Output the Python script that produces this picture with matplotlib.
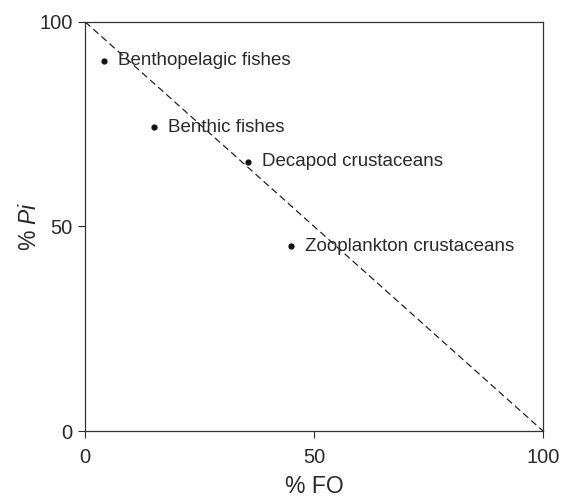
import matplotlib
matplotlib.use('Agg')
import matplotlib.pyplot as plt

plt.rcParams['font.family'] = ['Liberation Sans', 'DejaVu Sans']
plt.rcParams['mathtext.fontset'] = 'custom'
plt.rcParams['mathtext.rm'] = 'Liberation Sans'
plt.rcParams['mathtext.it'] = 'Liberation Sans:italic'

# prey groups: frequency of occurrence vs prey-specific abundance
groups = ['Benthopelagic fishes', 'Benthic fishes', 'Decapod crustaceans', 'Zooplankton crustaceans']
fo = [4.1, 15.1, 35.6, 45.0]
pi = [90.5, 74.3, 65.8, 45.2]

fig = plt.figure(figsize=(5.68, 4.98), dpi=100)
ax = fig.add_axes([0.15, 0.1345, 0.806, 0.8215])

ax.plot([0, 100], [100, 0], ls=(0, (5.5, 3.2)), color='#222222', lw=0.9)
ax.scatter(fo, pi, s=12, color='#111111', zorder=3)
for g, x, y in zip(groups, fo, pi):
    ax.annotate(g, (x, y), xytext=(10, 0), textcoords='offset points',
                va='center', ha='left', fontsize=13.5, color='#2a2a2a')

ax.set_xlim(0, 100)
ax.set_ylim(0, 100)
ax.set_xticks([0, 50, 100])
ax.set_yticks([0, 50, 100])
ax.tick_params(direction='out', length=5, width=0.8, labelsize=14.5, colors='#2a2a2a')
ax.tick_params(axis='x', pad=7)
ax.tick_params(axis='y', pad=4)
for s in ax.spines.values():
    s.set_linewidth(0.9)
    s.set_color('#333333')
ax.set_xlabel('% FO', fontsize=16.5, color='#2a2a2a', labelpad=6)
ax.set_ylabel(r'% $\mathit{Pi}$', fontsize=16.5, color='#2a2a2a', labelpad=-1)

fig.savefig('out.png', dpi=100)
